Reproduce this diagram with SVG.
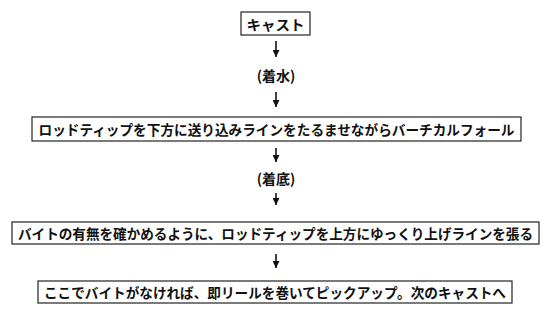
<svg xmlns="http://www.w3.org/2000/svg" width="550" height="313" viewBox="0 0 550 313">
<style>
.box{fill:#fff;stroke:#222;stroke-width:1.2}
.t{font-family:"Noto Sans CJK JP","Noto Sans",sans-serif;font-weight:bold;font-size:14px;fill:#111;text-anchor:middle;dominant-baseline:central}
.c{stroke:#111;stroke-width:1.6;fill:none}
</style>
<defs>
<marker id="ah" viewBox="0 0 7 7" refX="7" refY="3.5" markerWidth="7" markerHeight="7" markerUnits="userSpaceOnUse" orient="auto">
<path d="M0,0 L7,3.5 L0,7 Z" fill="#111"/>
</marker>
</defs>
<rect width="550" height="313" fill="#fff"/>
<g id="connectors">
<line class="c" x1="276" y1="41" x2="276" y2="57" marker-end="url(#ah)"/>
<line class="c" x1="276" y1="92" x2="276" y2="107" marker-end="url(#ah)"/>
<line class="c" x1="276" y1="148" x2="276" y2="162" marker-end="url(#ah)"/>
<line class="c" x1="276" y1="193" x2="276" y2="205" marker-end="url(#ah)"/>
<line class="c" x1="276" y1="254" x2="276" y2="268" marker-end="url(#ah)"/>
</g>
<g id="n1"><rect class="box" x="241" y="12" width="69" height="23"/><text class="t" x="275.5" y="23.5" textLength="58" lengthAdjust="spacingAndGlyphs">キャスト</text></g>
<g id="l1"><text class="t" x="276" y="75">(着水)</text></g>
<g id="n2"><rect class="box" x="32" y="117" width="489" height="24"/><text class="t" x="276.5" y="129" textLength="476" lengthAdjust="spacingAndGlyphs">ロッドティップを下方に送り込みラインをたるませながらバーチカルフォール</text></g>
<g id="l2"><text class="t" x="276" y="178">(着底)</text></g>
<g id="n3"><rect class="box" x="12" y="222" width="527" height="22"/><text class="t" x="275.5" y="233" textLength="515" lengthAdjust="spacingAndGlyphs">バイトの有無を確かめるように、ロッドティップを上方にゆっくり上げラインを張る</text></g>
<g id="n4"><rect class="box" x="38" y="281" width="474" height="22"/><text class="t" x="275" y="292" textLength="462" lengthAdjust="spacingAndGlyphs">ここでバイトがなければ、即リールを巻いてピックアップ。次のキャストへ</text></g>
</svg>
